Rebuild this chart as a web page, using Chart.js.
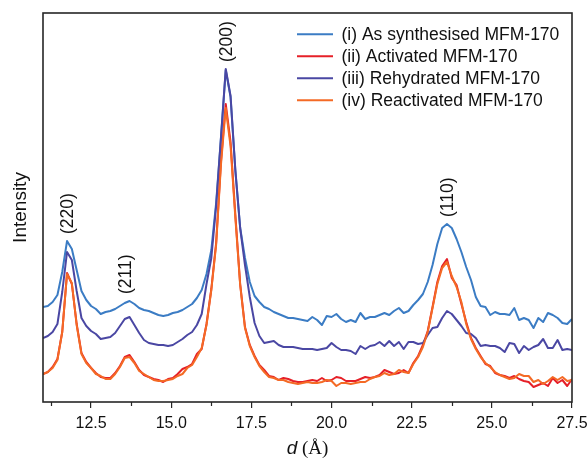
<!DOCTYPE html>
<html>
<head>
<meta charset="utf-8">
<title>PXRD MFM-170</title>
<script src="https://cdn.jsdelivr.net/npm/chart.js@4.4.1/dist/chart.umd.min.js"></script>
<style>
  html, body { margin: 0; padding: 0; background: #ffffff; }
  #wrap { width: 588px; height: 460px; }
</style>
</head>
<body>
<div id="wrap"><canvas id="chart" width="588" height="460"></canvas></div>
<script>
// d-spacing (Å)
const dSpacing = [
  11.00, 11.15, 11.30, 11.45, 11.60, 11.75, 11.90, 12.05, 12.20, 12.35,
  12.50, 12.65, 12.80, 12.95, 13.10, 13.25, 13.40, 13.55, 13.70, 13.85,
  14.00, 14.15, 14.30, 14.45, 14.60, 14.75, 14.90, 15.05, 15.20, 15.35,
  15.50, 15.65, 15.80, 15.95, 16.10, 16.25, 16.40, 16.55, 16.70, 16.85,
  17.00, 17.15, 17.30, 17.45, 17.60, 17.75, 17.90, 18.05, 18.20, 18.35,
  18.50, 18.65, 18.80, 18.95, 19.10, 19.25, 19.40, 19.55, 19.70, 19.85,
  20.00, 20.15, 20.30, 20.45, 20.60, 20.75, 20.90, 21.05, 21.20, 21.35,
  21.50, 21.65, 21.80, 21.95, 22.10, 22.25, 22.40, 22.55, 22.70, 22.85,
  23.00, 23.15, 23.30, 23.45, 23.60, 23.75, 23.90, 24.05, 24.20, 24.35,
  24.50, 24.65, 24.80, 24.95, 25.10, 25.25, 25.40, 25.55, 25.70, 25.85,
  26.00, 26.15, 26.30, 26.45, 26.60, 26.75, 26.90, 27.05, 27.20, 27.35,
  27.50
];

// (i) As synthesised MFM-170 (offset intensity, a.u.)
const asSynthesised = [
  95, 96, 100, 107, 130, 161, 153, 132, 111, 102,
  96, 93, 88, 90, 91, 93, 96, 99, 101, 98,
  94, 92, 91, 89, 87, 86, 87, 89, 90, 92,
  95, 98, 104, 112, 128, 152, 199, 264, 332, 305,
  231, 174, 144, 120, 106, 100, 95, 93, 90, 88,
  86, 84, 84, 83, 82, 81, 85, 82, 77, 86,
  85, 88, 83, 80, 82, 80, 89, 83, 85, 85,
  87, 89, 87, 91, 94, 89, 91, 97, 102, 108,
  120, 137, 158, 174, 178, 174, 163, 150, 135, 122,
  105, 96, 95, 87, 90, 88, 88, 87, 94, 82,
  84, 82, 74, 84, 80, 89, 87, 84, 79, 78,
  83
];

// (ii) Activated MFM-170
const activated = [
  28, 30, 35, 43, 70, 129, 118, 78, 49, 40,
  34, 29, 25, 24, 24, 29, 36, 45, 47, 40,
  32, 27, 25, 23, 22, 20, 23, 24, 28, 33,
  35, 38, 48, 53, 78, 113, 159, 240, 298, 260,
  187, 118, 75, 57, 46, 37, 32, 26, 25, 22,
  24, 23, 21, 20, 20, 21, 22, 21, 24, 21,
  22, 25, 24, 21, 21, 21, 23, 25, 24, 25,
  27, 32, 30, 28, 29, 32, 29, 39, 46, 57,
  71, 95, 120, 136, 143, 124, 117, 98, 80, 64,
  54, 46, 38, 36, 29, 27, 26, 24, 26, 23,
  21, 20, 15, 17, 19, 16, 24, 19, 22, 16,
  23
];

// (iii) Rehydrated MFM-170
const rehydrated = [
  64, 66, 70, 78, 110, 150, 142, 111, 84, 76,
  71, 68, 63, 64, 65, 69, 76, 83, 85, 77,
  69, 62, 59, 58, 57, 57, 56, 57, 60, 63,
  67, 70, 77, 88, 118, 144, 196, 264, 333, 306,
  232, 174, 137, 105, 79, 66, 59, 60, 61, 57,
  55, 55, 55, 54, 53, 53, 53, 52, 53, 54,
  59, 55, 52, 52, 51, 48, 56, 53, 56, 57,
  60, 56, 61, 56, 60, 53, 60, 60, 58, 59,
  67, 74, 75, 84, 91, 88, 82, 76, 69, 68,
  64, 56, 57, 56, 56, 54, 50, 59, 58, 49,
  56, 52, 55, 57, 63, 54, 54, 62, 52, 53,
  52
];

// (iv) Reactivated MFM-170
const reactivated = [
  28, 30, 34, 42, 70, 128, 119, 77, 48, 39,
  34, 28, 26, 23, 23, 28, 35, 44, 45, 39,
  31, 28, 25, 22, 21, 21, 22, 23, 26, 28,
  34, 37, 45, 54, 77, 112, 157, 237, 294, 256,
  184, 117, 74, 56, 45, 36, 30, 25, 24, 22,
  22, 20, 19, 18, 19, 20, 19, 19, 20, 22,
  21, 16, 19, 19, 18, 19, 20, 20, 23, 25,
  26, 29, 27, 28, 32, 30, 29, 38, 45, 55,
  70, 94, 118, 134, 140, 126, 115, 100, 78, 63,
  53, 45, 39, 35, 30, 27, 25, 23, 24, 28,
  26, 26, 20, 22, 18, 21, 25, 22, 25, 21,
  22
];

const seriesLabels = [
  '(i) As synthesised MFM-170',
  '(ii) Activated MFM-170',
  '(iii) Rehydrated MFM-170',
  '(iv) Reactivated MFM-170'
];
const seriesColors = ['#3b7cc4', '#e62028', '#4a47a3', '#f46a25'];

const majorTicks = [12.5, 15.0, 17.5, 20.0, 22.5, 25.0, 27.5];
const minorTicks = [11.25, 13.75, 16.25, 18.75, 21.25, 23.75, 26.25];

// Miller indices of the reflections and the d-spacing they sit at
const peakLabels = ['(220)', '(211)', '(200)', '(110)'];
const peakD = [11.8, 13.6, 16.75, 23.65];

const SANS = "'Liberation Sans', Arial, Helvetica, sans-serif";
const SERIF = "'Liberation Serif', 'Times New Roman', serif";

const toPoints = vals => dSpacing.map((x, i) => ({ x, y: vals[i] }));
const seriesValues = [asSynthesised, activated, rehydrated, reactivated];

// frame, minor ticks, reflection labels, in-plot legend and x title
const decorations = {
  id: 'decorations',
  afterDraw(chart) {
    const { ctx, chartArea: a, scales: { x, y } } = chart;
    ctx.save();

    ctx.strokeStyle = '#262626';
    ctx.lineWidth = 1.6;
    ctx.strokeRect(a.left, a.top, a.right - a.left, a.bottom - a.top);

    ctx.lineWidth = 1.2;
    ctx.beginPath();
    minorTicks.forEach(v => {
      const px = Math.round(x.getPixelForValue(v)) + 0.5;
      ctx.moveTo(px, a.bottom);
      ctx.lineTo(px, a.bottom + 4);
    });
    ctx.stroke();

    ctx.fillStyle = '#111';
    ctx.font = `17.5px ${SANS}`;
    ctx.textBaseline = 'middle';
    ctx.textAlign = 'left';
    peakLabels.forEach((t, i) => {
      let top = -Infinity;
      chart.data.datasets.forEach(ds => ds.data.forEach(p => {
        if (Math.abs(p.x - peakD[i]) <= 0.2 && p.y > top) top = p.y;
      }));
      const px = x.getPixelForValue(peakD[i]);
      const py = y.getPixelForValue(top) - 7;
      ctx.save();
      ctx.translate(px, py);
      ctx.rotate(-Math.PI / 2);
      ctx.fillText(t, 0, 0);
      ctx.restore();
    });

    seriesLabels.forEach((t, i) => {
      const yy = a.top + 21.3 + 22 * i;
      ctx.strokeStyle = seriesColors[i];
      ctx.lineWidth = 2;
      ctx.beginPath();
      ctx.moveTo(a.right - 275, yy);
      ctx.lineTo(a.right - 239, yy);
      ctx.stroke();
      ctx.fillStyle = '#111';
      ctx.fillText(t, a.right - 230.5, yy + 1);
    });

    ctx.textBaseline = 'alphabetic';
    const f1 = `italic 19px ${SANS}`;
    const f2 = `19px ${SERIF}`;
    ctx.font = f1;
    const w1 = ctx.measureText('d').width;
    ctx.font = f2;
    const w2 = ctx.measureText(' (Å)').width;
    const sx = (a.left + a.right) / 2 - (w1 + w2) / 2;
    const by = a.bottom + 52;
    ctx.font = f1;
    ctx.fillText('d', sx, by);
    ctx.font = f2;
    ctx.fillText(' (Å)', sx + w1, by);

    ctx.restore();
  }
};

new Chart(document.getElementById('chart'), {
  type: 'line',
  data: {
    datasets: seriesValues.map((vals, i) => ({
      label: seriesLabels[i],
      data: toPoints(vals),
      borderColor: seriesColors[i],
      backgroundColor: seriesColors[i],
      borderWidth: 2,
      pointRadius: 0,
      tension: 0,
      fill: false,
      borderJoinStyle: 'round',
      order: seriesValues.length - i
    }))
  },
  options: {
    responsive: false,
    animation: false,
    devicePixelRatio: 1,
    layout: { padding: { left: 0, right: 16, top: 13, bottom: 0 } },
    plugins: { legend: { display: false }, tooltip: { enabled: false } },
    scales: {
      x: {
        type: 'linear',
        min: 11,
        max: 27.5,
        afterBuildTicks: s => { s.ticks = majorTicks.map(v => ({ value: v })); },
        afterFit: s => { s.height = 58; s.paddingLeft = 0; s.paddingRight = 0; },
        ticks: {
          font: { family: SANS, size: 16 },
          color: '#111',
          padding: 6,
          maxRotation: 0,
          autoSkip: false,
          callback: v => Number(v).toFixed(1)
        },
        grid: { drawOnChartArea: false, drawTicks: true, tickLength: 6, color: '#262626', lineWidth: 1.2 },
        border: { display: false }
      },
      y: {
        type: 'linear',
        min: 0,
        max: 389,
        afterFit: s => { s.width = 43; },
        ticks: { display: false },
        grid: { display: false },
        border: { display: false },
        title: {
          display: true,
          text: 'Intensity',
          font: { family: SANS, size: 19 },
          color: '#111',
          padding: { top: 9, bottom: 0 }
        }
      }
    }
  },
  plugins: [decorations]
});
</script>
</body>
</html>
